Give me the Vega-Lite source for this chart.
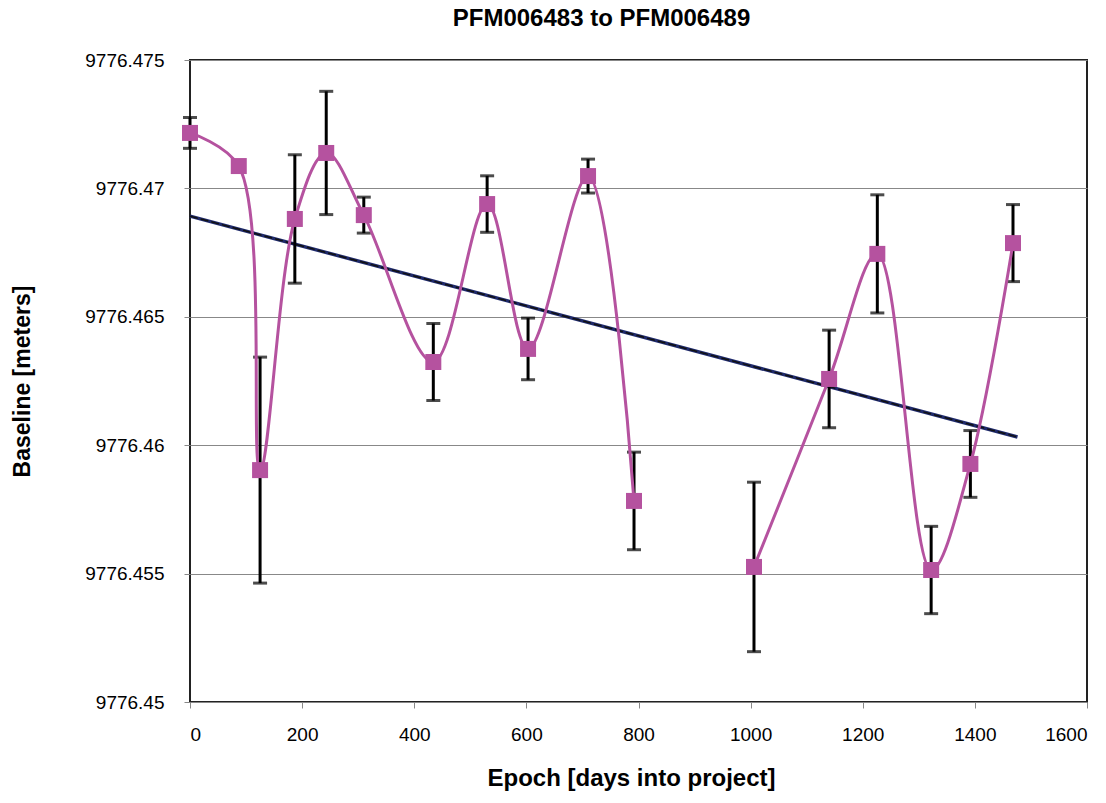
{
  "$schema": "https://vega.github.io/schema/vega-lite/v6.json",
  "autosize": {"type": "none"},
  "width": 897,
  "height": 642,
  "padding": {"left": 190, "top": 60, "right": 19, "bottom": 101},
  "background": "white",
  "config": {
    "font": "Liberation Sans",
    "view": {"stroke": "#222222", "strokeWidth": 2}
  },
  "title": {
    "text": "PFM006483 to PFM006489",
    "font": "Liberation Sans",
    "fontSize": 24,
    "fontWeight": "bold",
    "color": "black",
    "anchor": "middle",
    "dx": -37,
    "offset": 20
  },
  "datasets": {
    "obs": [
      {"epoch": 0, "baseline": 9776.47216, "err": 0.0006, "seg": "a"},
      {"epoch": 87, "baseline": 9776.47087, "err": 0.0002, "seg": "a"},
      {"epoch": 125, "baseline": 9776.45903, "err": 0.0044, "seg": "a"},
      {"epoch": 187, "baseline": 9776.46881, "err": 0.0025, "seg": "a"},
      {"epoch": 243, "baseline": 9776.47138, "err": 0.0024, "seg": "a"},
      {"epoch": 310, "baseline": 9776.46896, "err": 0.0007, "seg": "a"},
      {"epoch": 434, "baseline": 9776.46324, "err": 0.0015, "seg": "a"},
      {"epoch": 530, "baseline": 9776.46939, "err": 0.0011, "seg": "a"},
      {"epoch": 603, "baseline": 9776.46375, "err": 0.0012, "seg": "a"},
      {"epoch": 710, "baseline": 9776.47048, "err": 0.00066, "seg": "a"},
      {"epoch": 792, "baseline": 9776.45783, "err": 0.0019, "seg": "a"},
      {"epoch": 1006, "baseline": 9776.45526, "err": 0.0033, "seg": "b"},
      {"epoch": 1140, "baseline": 9776.46258, "err": 0.0019, "seg": "b"},
      {"epoch": 1226, "baseline": 9776.46745, "err": 0.0023, "seg": "b"},
      {"epoch": 1322, "baseline": 9776.45514, "err": 0.0017, "seg": "b"},
      {"epoch": 1392, "baseline": 9776.45927, "err": 0.0013, "seg": "b"},
      {"epoch": 1468, "baseline": 9776.46787, "err": 0.0015, "seg": "b"}
    ],
    "trend": [
      {"epoch": 0, "baseline": 9776.46892},
      {"epoch": 1476, "baseline": 9776.46032}
    ]
  },
  "encoding": {
    "x": {
      "field": "epoch", "type": "quantitative",
      "scale": {"domain": [0, 1600], "nice": false, "zero": false},
      "axis": {
        "values": [0, 200, 400, 600, 800, 1000, 1200, 1400, 1600],
        "format": "d",
        "title": "Epoch [days into project]",
        "titleFont": "Liberation Sans", "titleFontSize": 24, "titleFontWeight": "bold", "titleColor": "black",
        "titlePadding": 22,
        "titleX": 441,
        "labelFont": "Liberation Sans", "labelFontSize": 19, "labelColor": "black", "labelPadding": 17,
        "domain": false, "grid": false,
        "ticks": true, "tickColor": "#888888", "tickSize": 6
      }
    },
    "y": {
      "field": "baseline", "type": "quantitative",
      "scale": {"domain": [9776.45, 9776.475], "nice": false, "zero": false},
      "axis": {
        "values": [9776.45, 9776.455, 9776.46, 9776.465, 9776.47, 9776.475],
        "labelExpr": "replace(format(datum.value, '.3f'), /\\.?0+$/, '')",
        "title": "Baseline [meters]",
        "titleFont": "Liberation Sans", "titleFontSize": 23, "titleFontWeight": "bold", "titleColor": "black",
        "titlePadding": 50,
        "labelFont": "Liberation Sans", "labelFontSize": 19, "labelColor": "black", "labelPadding": 20,
        "domain": false,
        "grid": true, "gridColor": "#888888", "gridWidth": 1,
        "ticks": true, "tickColor": "#888888", "tickSize": 6
      }
    }
  },
  "layer": [
    {
      "data": {"name": "trend"},
      "mark": {"type": "line", "color": "#1f2a6b", "strokeWidth": 3.5},
      "encoding": {}
    },
    {
      "data": {"name": "trend"},
      "mark": {"type": "line", "color": "#111111", "strokeWidth": 1.5, "strokeDash": [8, 3]},
      "encoding": {}
    },
    {
      "data": {"name": "obs"},
      "transform": [
        {"calculate": "datum.baseline - datum.err", "as": "lo"},
        {"calculate": "datum.baseline + datum.err", "as": "hi"}
      ],
      "layer": [
        {
          "mark": {"type": "rule", "color": "black", "strokeWidth": 3},
          "encoding": {"y": {"field": "lo", "type": "quantitative"}, "y2": {"field": "hi"}}
        },
        {
          "mark": {"type": "tick", "color": "black", "thickness": 3, "size": 14, "orient": "horizontal"},
          "encoding": {"y": {"field": "lo", "type": "quantitative"}}
        },
        {
          "mark": {"type": "tick", "color": "black", "thickness": 3, "size": 14, "orient": "horizontal"},
          "encoding": {"y": {"field": "hi", "type": "quantitative"}}
        }
      ]
    },
    {
      "data": {"name": "obs"},
      "mark": {"type": "line", "color": "#b5529f", "strokeWidth": 3, "interpolate": "catmull-rom"},
      "encoding": {"detail": {"field": "seg"}}
    },
    {
      "data": {"name": "obs"},
      "mark": {"type": "point", "shape": "square", "filled": true, "opacity": 1, "color": "#b5529f", "size": 256},
      "encoding": {}
    }
  ]
}
